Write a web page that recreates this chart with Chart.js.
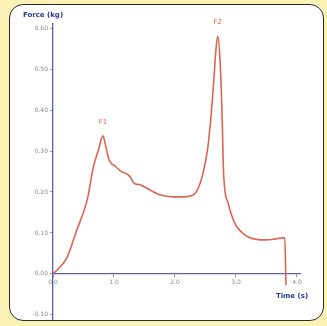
<!DOCTYPE html>
<html>
<head>
<meta charset="utf-8">
<script src="https://cdn.jsdelivr.net/npm/chart.js@4.4.1/dist/chart.umd.min.js"></script>
<style>
  html, body { margin: 0; padding: 0; }
  body { width: 327px; height: 326px; background: #fdf2b6; position: relative; overflow: hidden; }
  #panel { position: absolute; left: 9px; top: 4px; width: 313px; height: 315px;
           background: #fff; border: 1.5px solid #2a2a2a; border-radius: 14px; }
  #wrap { position: absolute; left: 0; top: 0; width: 327px; height: 326px; }
</style>
</head>
<body>
<div id="panel"></div>
<div id="wrap"><canvas id="myChart" width="327" height="326"></canvas></div>
<script>
// force curve, time in s, force in kg
let times = [0, 0.07, 0.23, 0.39, 0.56, 0.66, 0.74, 0.82, 0.86, 0.92, 1.02, 1.13, 1.2, 1.26, 1.34, 1.42, 1.48, 1.59, 1.75, 1.97, 2.12, 2.25, 2.36, 2.46, 2.54, 2.6, 2.64, 2.67, 2.7, 2.74, 2.77, 2.8, 2.87, 2.98, 3.15, 3.31, 3.48, 3.64, 3.77, 3.8, 3.82];
let force = [0, 0.01, 0.04, 0.107, 0.18, 0.26, 0.3, 0.337, 0.315, 0.278, 0.263, 0.249, 0.245, 0.238, 0.22, 0.218, 0.214, 0.205, 0.193, 0.188, 0.188, 0.19, 0.203, 0.246, 0.31, 0.4, 0.48, 0.545, 0.58, 0.52, 0.4, 0.237, 0.173, 0.124, 0.095, 0.085, 0.083, 0.085, 0.088, 0.088, -0.027];

let xTicks = [0, 1, 2, 3, 4];
let yTicks = [-0.1, 0, 0.1, 0.2, 0.3, 0.4, 0.5, 0.6];

// peak markers: index into the arrays above
let peakNames = ["F1", "F2"];
let peakIndex = [7, 28];

let axisBlue = "#5a5fae";
let curveRed = "#dc6553";

let points = [];
for (let i = 0; i < times.length; i++) {
  points.push({ x: times[i], y: force[i] });
}

// axis titles and peak names
const labelsPlugin = {
  id: "labels",
  afterDraw(chart) {
    const ctx = chart.ctx;
    const xs = chart.scales.x;
    const ys = chart.scales.y;
    ctx.save();
    ctx.font = "bold 7px 'DejaVu Sans'";
    ctx.fillStyle = "#2e3690";
    ctx.textAlign = "center";
    ctx.textBaseline = "middle";
    ctx.fillText("Force (kg)", xs.left - 10, ys.top - 9);
    ctx.fillText("Time (s)", xs.right - 8, ys.getPixelForValue(0) + 22);

    ctx.font = "7px 'DejaVu Sans'";
    ctx.fillStyle = curveRed;
    for (let i = 0; i < peakNames.length; i++) {
      let k = peakIndex[i];
      let px = xs.getPixelForValue(times[k]);
      let py = ys.getPixelForValue(force[k]);
      ctx.fillText(peakNames[i], px, py - 14);
    }
    ctx.restore();
  }
};

const config = {
  type: "line",
  data: {
    datasets: [{
      data: points,
      borderColor: curveRed,
      borderWidth: 1.6,
      pointRadius: 0,
      fill: false,
      cubicInterpolationMode: "monotone"
    }]
  },
  options: {
    responsive: false,
    animation: false,
    layout: { padding: { left: 0, top: 24, right: 27, bottom: 7 } },
    plugins: { legend: { display: false }, tooltip: { enabled: false } },
    scales: {
      x: {
        type: "linear",
        min: 0,
        max: 4.05,
        position: { y: 0 },
        afterBuildTicks: s => { s.ticks = xTicks.map(v => ({ value: v })); },
        border: { color: axisBlue, width: 1.3 },
        grid: { drawOnChartArea: false, tickLength: 3, color: "#9a9a9a" },
        ticks: {
          color: "#8a8a8a",
          font: { size: 6, family: "DejaVu Sans" },
          padding: 2,
          maxRotation: 0,
          callback: v => v.toFixed(1)
        }
      },
      y: {
        type: "linear",
        min: -0.11,
        max: 0.61,
        afterFit: s => { s.width = 53; },
        afterBuildTicks: s => { s.ticks = yTicks.map(v => ({ value: v })); },
        border: { color: axisBlue, width: 1.3 },
        grid: { drawOnChartArea: false, tickLength: 3, color: "#9a9a9a" },
        ticks: {
          color: "#8a8a8a",
          font: { size: 6, family: "DejaVu Sans" },
          padding: 2,
          callback: v => v.toFixed(2)
        }
      }
    }
  },
  plugins: [labelsPlugin]
};

let canvasChart = document.getElementById("myChart");
new Chart(canvasChart, config);
</script>
</body>
</html>
